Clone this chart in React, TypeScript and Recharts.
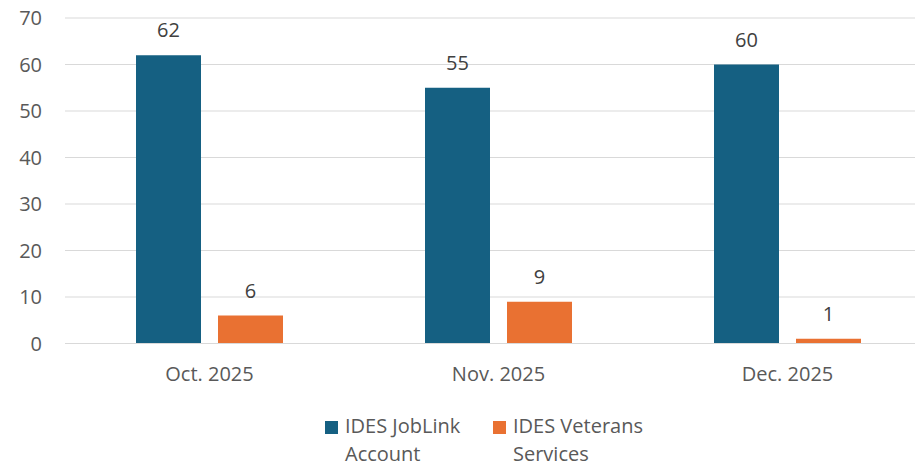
import React from 'react';
import { BarChart, Bar, XAxis, YAxis, CartesianGrid, Legend, LabelList } from 'recharts';

const categories = ['Oct. 2025', 'Nov. 2025', 'Dec. 2025'];
const jobLink = [62, 55, 60];
const veterans = [6, 9, 1];
const yTicks = [0, 10, 20, 30, 40, 50, 60, 70];
const seriesNames = [['IDES JobLink', 'Account'], ['IDES Veterans', 'Services']];
const colors = ['#156082', '#E97132'];

const data = categories.map((c, i) => ({ name: c, jobLink: jobLink[i], veterans: veterans[i] }));

const FONT = '"Open Sans", sans-serif';

const LegendContent = () => (
  <div style={{ display: 'flex', fontFamily: FONT, fontSize: 20, lineHeight: '28px', color: '#595959' }}>
    {seriesNames.map((lines, i) => (
      <div key={i} style={{ display: 'flex', alignItems: 'flex-start', width: 168 }}>
        <div style={{ width: 13, height: 13, background: colors[i], marginTop: 9, marginRight: 7, flex: 'none' }} />
        <div>
          {lines.map((l, j) => (
            <div key={j} style={{ whiteSpace: 'nowrap' }}>{l}</div>
          ))}
        </div>
      </div>
    ))}
  </div>
);

export default function App() {
  return (
    <div style={{ position: 'absolute', left: 0, top: 0, width: 915, height: 469, overflow: 'hidden', background: '#fff' }}>
      <BarChart
        width={932}
        height={469}
        data={data}
        margin={{ top: 18, right: 0, bottom: 85.5, left: 0 }}
        barSize={65}
        barGap={17}
      >
        <CartesianGrid vertical={false} stroke="#d9d9d9" strokeWidth={1} />
        <XAxis
          dataKey="name"
          height={40}
          tickLine={false}
          tickSize={0}
          tickMargin={23}
          axisLine={{ stroke: '#d9d9d9' }}
          tick={{ fill: '#595959', fontSize: 20, fontFamily: FONT }}
        />
        <YAxis
          width={65}
          domain={[0, 70]}
          ticks={yTicks}
          tickLine={false}
          axisLine={false}
          tickSize={0}
          tickMargin={23}
          tick={{ fill: '#595959', fontSize: 20, fontFamily: FONT }}
        />
        <Legend
          layout="horizontal"
          verticalAlign="middle"
          align="center"
          wrapperStyle={{ top: 412, left: 325, width: 400 }}
          content={<LegendContent />}
        />
        <Bar dataKey="jobLink" fill={colors[0]} isAnimationActive={false}>
          <LabelList dataKey="jobLink" position="top" offset={18} fill="#404040" fontSize={20} fontFamily={FONT} />
        </Bar>
        <Bar dataKey="veterans" fill={colors[1]} isAnimationActive={false}>
          <LabelList dataKey="veterans" position="top" offset={18} fill="#404040" fontSize={20} fontFamily={FONT} />
        </Bar>
      </BarChart>
    </div>
  );
}
